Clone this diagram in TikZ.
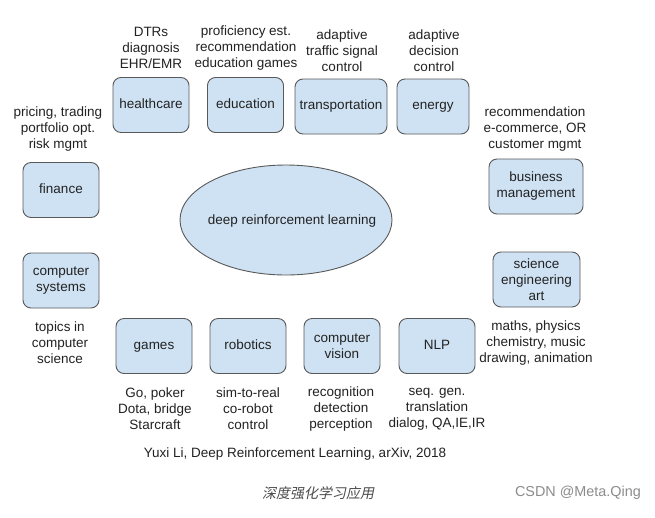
\documentclass[tikz,border=0pt]{standalone}
\usepackage{fontspec}
\setmainfont{Liberation Sans}
\newfontfamily\cjk[FakeSlant=0.2]{Noto Sans CJK SC}
\definecolor{boxfill}{HTML}{CFE2F3}
\definecolor{boxline}{HTML}{595959}
\definecolor{txt}{HTML}{222222}
\begin{document}
\begin{tikzpicture}[x=1pt,y=-1pt,
  every node/.style={font=\fontsize{13.5}{16}\selectfont, text=txt, align=center, inner sep=0pt},
  area/.style={draw=boxline, fill=boxfill, line width=0.9pt, rounded corners=8pt, minimum width=76pt, minimum height=55pt},
  oneline/.style={text height=9.7pt, text depth=2.9pt},
  note/.style={}]
\useasboundingbox (0,0) rectangle (655,517);
\fill[white] (0,0) rectangle (655,517);
% center ellipse
\draw[draw=boxline, fill=boxfill, line width=0.9pt] (286,220) ellipse [x radius=106, y radius=55];
\node[oneline] (drl) at (292,221) {deep reinforcement learning};
% top row
\node[area, oneline] (health) at (151,105) {healthcare};
\node[area, oneline] (edu) at (245.5,105) {education};
\node[area, oneline, minimum width=92pt] (trans) at (341,106.5) {transportation};
\node[area, oneline, minimum width=72pt] (energy) at (433,106.5) {energy};
% sides
\node[area, oneline] (fin) at (61,190) {finance};
\node[area] (cs) at (61,280.5) {computer\\systems};
\node[area, minimum width=94pt] (bus) at (536,186.5) {business\\management};
\node[area, minimum width=87pt] (sci) at (536.5,279.5) {science\\engineering\\art};
% bottom row
\node[area, oneline] (games) at (154,346) {games};
\node[area, oneline] (rob) at (248,346) {robotics};
\node[area] (cv) at (342,346) {computer\\vision};
\node[area, oneline] (nlp) at (437,346) {NLP};
% annotations
\node[note] (nhealth) at (151,48) {DTRs\\diagnosis\\EHR/EMR};
\node[note] (nedu) at (246,48) {proficiency est.\\recommendation\\education games};
\node[note] (ntrans) at (342,51) {adaptive\\traffic signal\\control};
\node[note] (nenergy) at (434,51) {adaptive\\decision\\control};
\node[note] (nfin) at (58,129) {pricing, trading\\portfolio opt.\\risk mgmt};
\node[note] (nbus) at (535,129) {recommendation\\e-commerce, OR\\customer mgmt};
\node[note] (ncs) at (60,343) {topics in\\computer\\science};
\node[note] (nsci) at (536,343) {maths, physics\\chemistry, music\\drawing, animation};
\node[note] (ngames) at (155,409) {Go, poker\\Dota, bridge\\Starcraft};
\node[note] (nrob) at (248,409) {sim-to-real\\co-robot\\control};
\node[note] (ncv) at (341,409) {recognition\\detection\\perception};
\node[note] (nnlp) at (437,409) {seq. gen.\\translation\\dialog, QA,IE,IR};
\node[note] (cite) at (295,454) {Yuxi Li, Deep Reinforcement Learning, arXiv, 2018};
% caption and watermark
\node[text=black!70, font=\cjk\fontsize{14}{16}\selectfont] (cap) at (318,493) {深度强化学习应用};
\node[text=black!45, font=\fontsize{14.4}{16}\selectfont] (wm) at (578,493) {CSDN @Meta.Qing};
\end{tikzpicture}
\end{document}
